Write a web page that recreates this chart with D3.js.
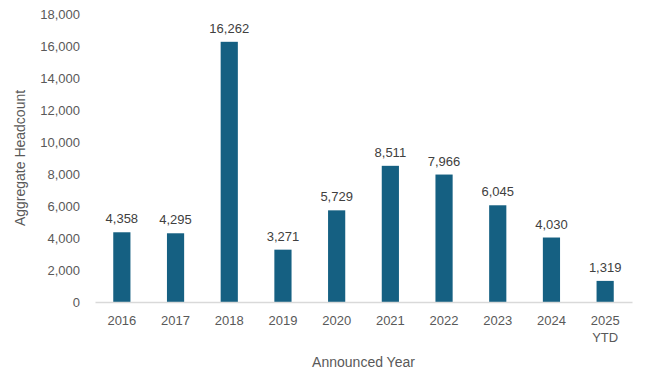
<!DOCTYPE html>
<html>
<head>
<meta charset="utf-8">
<script src="https://cdn.jsdelivr.net/npm/d3@7"></script>
<style>
  body { margin: 0; background: #fff; }
  svg text { font-family: "Liberation Sans", Arial, sans-serif; }
</style>
</head>
<body>
<div id="chart"></div>
<script>
const years = ["2016", "2017", "2018", "2019", "2020", "2021", "2022", "2023", "2024", "2025 YTD"];
const headcount = [4358, 4295, 16262, 3271, 5729, 8511, 7966, 6045, 4030, 1319];
const yTicks = [0, 2000, 4000, 6000, 8000, 10000, 12000, 14000, 16000, 18000];

const width = 646, height = 385;
const margin = { left: 95, right: 14, top: 14, bottom: 83 };

const svg = d3.select("#chart").append("svg")
  .attr("width", width)
  .attr("height", height);

const x = d3.scaleBand()
  .domain(years)
  .range([margin.left, width - margin.right])
  .paddingInner(0.68)
  .paddingOuter(0.34);

const y = d3.scaleLinear()
  .domain([0, 18000])
  .range([height - margin.bottom, margin.top]);

const fmt = d3.format(",");

// y axis labels (no line)
const yAxis = svg.append("g")
  .attr("transform", `translate(${margin.left},0)`)
  .call(d3.axisLeft(y).tickValues(yTicks).tickFormat(fmt).tickSize(0).tickPadding(15));
yAxis.select(".domain").remove();
yAxis.selectAll("text").attr("fill", "#595959").style("font-size", "13px");

// bars
svg.append("g").selectAll("rect")
  .data(headcount)
  .join("rect")
  .attr("x", (d, i) => x(years[i]))
  .attr("y", d => y(d))
  .attr("width", x.bandwidth())
  .attr("height", d => y(0) - y(d))
  .attr("fill", "#156082");

// value labels
svg.append("g").selectAll("text")
  .data(headcount)
  .join("text")
  .attr("x", (d, i) => x(years[i]) + x.bandwidth() / 2)
  .attr("y", d => y(d) - 9)
  .attr("text-anchor", "middle")
  .attr("fill", "#404040")
  .style("font-size", "13px")
  .text(d => fmt(d));

// x axis
const xAxis = svg.append("g")
  .attr("transform", `translate(0,${y(0)})`)
  .call(d3.axisBottom(x).tickSize(0).tickPadding(14).tickSizeOuter(0));
xAxis.select(".domain").attr("stroke", "#d9d9d9").attr("stroke-width", 1.5);
xAxis.selectAll("text")
  .attr("fill", "#595959")
  .style("font-size", "13px")
  .each(function(d) {
    const parts = d.split(" ");
    const t = d3.select(this).text(null);
    parts.forEach((p, i) => {
      t.append("tspan").attr("x", 0).attr("dy", i === 0 ? "0.71em" : "1.3em").text(p);
    });
  });

// axis titles
svg.append("text")
  .attr("x", (margin.left + width - margin.right) / 2)
  .attr("y", 367)
  .attr("text-anchor", "middle")
  .attr("fill", "#595959")
  .style("font-size", "14px")
  .text("Announced Year");

svg.append("text")
  .attr("transform", `translate(25,${(margin.top + y(0)) / 2}) rotate(-90)`)
  .attr("text-anchor", "middle")
  .attr("fill", "#595959")
  .style("font-size", "14px")
  .text("Aggregate Headcount");
</script>
</body>
</html>
